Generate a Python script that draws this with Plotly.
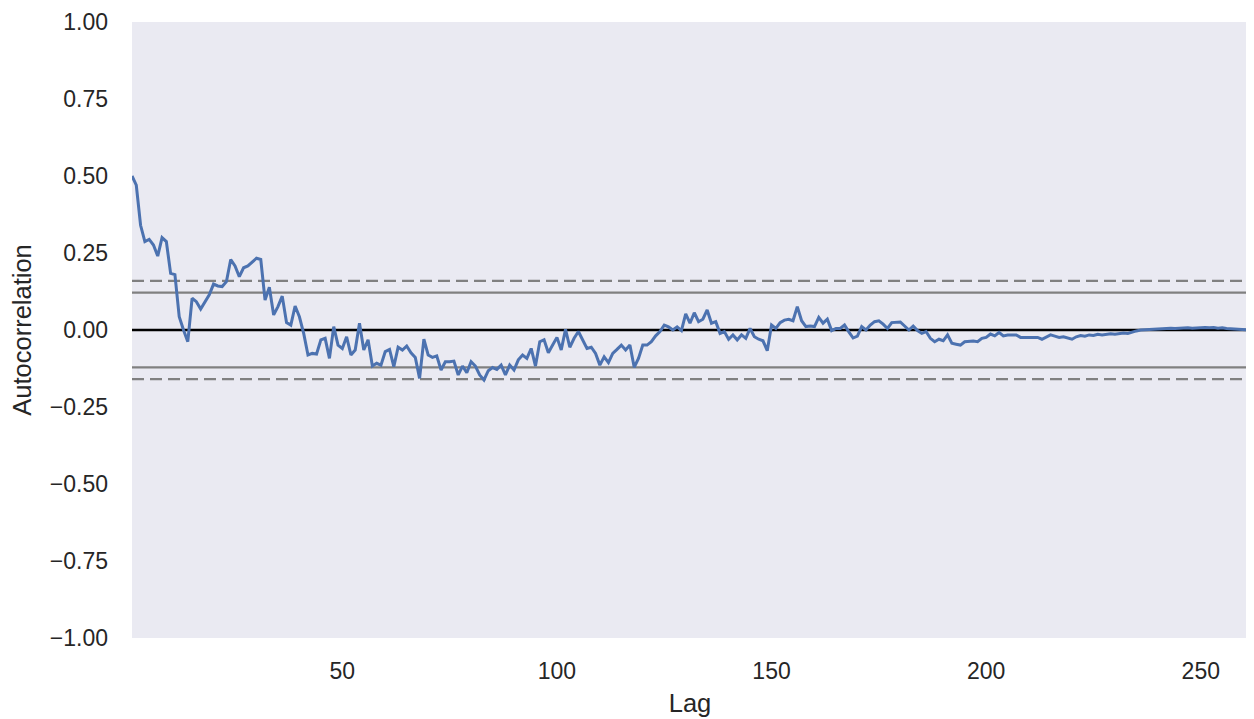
import plotly.graph_objects as go

# Autocorrelation values for lags 1..261
acf = [
    0.500, 0.470, 0.340, 0.287, 0.294, 0.276, 0.240, 0.300, 0.287, 0.184,
    0.180, 0.043, 0.000, -0.038, 0.103, 0.092, 0.068, 0.092, 0.114, 0.149,
    0.143, 0.141, 0.157, 0.229, 0.208, 0.173, 0.202, 0.208, 0.222, 0.233,
    0.229, 0.097, 0.139, 0.049, 0.076, 0.110, 0.024, 0.016, 0.078, 0.043,
    -0.011, -0.081, -0.076, -0.078, -0.032, -0.027, -0.092, 0.011, -0.049, -0.060,
    -0.022, -0.081, -0.065, 0.022, -0.065, -0.032, -0.117, -0.108, -0.114, -0.070,
    -0.063, -0.119, -0.056, -0.065, -0.052, -0.074, -0.089, -0.157, -0.030, -0.081,
    -0.089, -0.084, -0.130, -0.103, -0.103, -0.101, -0.146, -0.117, -0.139, -0.103,
    -0.117, -0.146, -0.162, -0.132, -0.122, -0.128, -0.114, -0.146, -0.114, -0.130,
    -0.097, -0.081, -0.092, -0.060, -0.117, -0.038, -0.032, -0.074, -0.049, -0.024,
    -0.065, 0.002, -0.056, -0.027, -0.005, -0.032, -0.060, -0.056, -0.076, -0.114,
    -0.087, -0.106, -0.076, -0.063, -0.049, -0.065, -0.049, -0.121, -0.092, -0.049,
    -0.049, -0.038, -0.019, -0.005, 0.016, 0.010, 0.000, 0.010, -0.002, 0.052,
    0.022, 0.056, 0.027, 0.035, 0.065, 0.022, 0.027, -0.011, -0.005, -0.030,
    -0.016, -0.032, -0.016, -0.027, 0.005, -0.022, -0.030, -0.035, -0.067, 0.016,
    0.005, 0.024, 0.032, 0.035, 0.030, 0.076, 0.030, 0.011, 0.013, 0.011,
    0.041, 0.022, 0.035, -0.002, 0.005, 0.005, 0.016, -0.006, -0.026, -0.020,
    0.011, 0.000, 0.016, 0.027, 0.030, 0.019, 0.005, 0.024, 0.026, 0.026,
    0.013, 0.000, 0.013, -0.002, -0.011, -0.005, -0.027, -0.038, -0.030, -0.035,
    -0.016, -0.043, -0.046, -0.049, -0.038, -0.036, -0.036, -0.038, -0.027, -0.024,
    -0.013, -0.019, -0.008, -0.019, -0.016, -0.016, -0.016, -0.024, -0.024, -0.022,
    -0.024, -0.024, -0.030, -0.022, -0.016, -0.020, -0.024, -0.022, -0.026, -0.030,
    -0.022, -0.018, -0.020, -0.016, -0.018, -0.014, -0.016, -0.013, -0.012, -0.014,
    -0.012, -0.010, -0.011, -0.006, -0.003, 0.000, 0.001, 0.002, 0.003, 0.004,
    0.005, 0.004, 0.006, 0.005, 0.006, 0.005, 0.007, 0.006, 0.007, 0.008,
    0.008, 0.007, 0.008, 0.006, 0.007, 0.005, 0.004, 0.003, 0.002, 0.001,
    0.000,
]
lags = list(range(1, len(acf) + 1))

n = len(acf)
z95 = 1.959963984540054
z99 = 2.5758293035489
band95 = z95 / n ** 0.5
band99 = z99 / n ** 0.5

x_ticks = [50, 100, 150, 200, 250]
y_ticks = [-1.0, -0.75, -0.5, -0.25, 0.0, 0.25, 0.5, 0.75, 1.0]

FONT = "Liberation Sans, Arial, sans-serif"
TXT = "#262626"

fig = go.Figure()
fig.add_trace(go.Scatter(
    x=lags, y=acf, mode="lines",
    line=dict(color="#4C72B0", width=3),
    showlegend=False, hoverinfo="skip",
))

shapes = []
for yv, style, col in [
    (band99, "12px,6px", "#808080"), (band95, "solid", "#808080"),
    (0.0, "solid", "#000000"), (-band95, "solid", "#808080"),
    (-band99, "12px,6px", "#808080"),
]:
    shapes.append(dict(type="line", xref="paper", yref="y", x0=0, x1=1, y0=yv, y1=yv,
                       line=dict(color=col, width=2.4, dash=style), layer="below"))

# The page body adds an 8px margin, so the figure is sized/margined to compensate.
fig.update_layout(
    width=1246, height=711,
    margin=dict(l=124, r=6, t=14, b=81, autoexpand=False),
    paper_bgcolor="white", plot_bgcolor="#EAEAF2",
    font=dict(family=FONT, color=TXT, size=23),
    shapes=shapes,
    xaxis=dict(
        range=[1, n], tickvals=x_ticks, showgrid=False, zeroline=False,
        showline=False, ticks="", ticklabelstandoff=17, automargin=False,
        tickfont=dict(size=23, color=TXT),
        title=dict(text="Lag", font=dict(size=25.5, color=TXT), standoff=11),
    ),
    yaxis=dict(
        range=[-1, 1], tickvals=y_ticks, tickformat=".2f", showgrid=False,
        zeroline=False, showline=False, ticks="", ticklabelstandoff=23, automargin=False,
        tickfont=dict(size=23, color=TXT),
        title=dict(text="Autocorrelation", font=dict(size=25.5, color=TXT), standoff=12),
    ),
)

fig.write_html("out.html")
